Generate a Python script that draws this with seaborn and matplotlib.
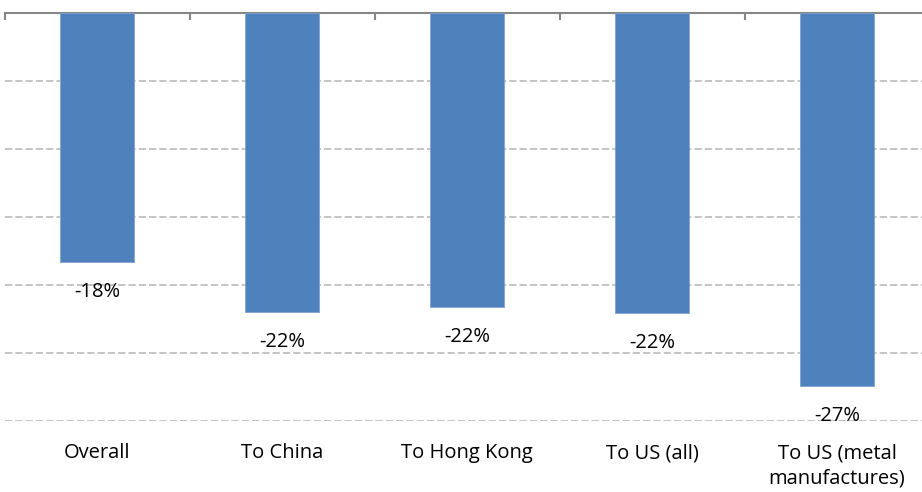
import matplotlib
matplotlib.use("Agg")
import matplotlib.pyplot as plt
import seaborn as sns
import pandas as pd
import numpy as np

categories = ["Overall", "To China", "To Hong Kong", "To US (all)", "To US (metal\nmanufactures)"]
values = [-18.3, -22.0, -21.6, -22.1, -27.4]
labels = ["-18%", "-22%", "-22%", "-22%", "-27%"]

sns.set_style("white")
plt.rcParams['font.family'] = ['Open Sans', 'DejaVu Sans']

df = pd.DataFrame({"category": categories, "value": values})

fig = plt.figure(figsize=(9.22, 4.92), dpi=100)
ax = fig.add_axes([4.5 / 922, 71 / 492, 925 / 922, 408.5 / 492])

sns.barplot(data=df, x="category", y="value", color="#4F81BD", width=0.40,
            saturation=1, edgecolor="#7FA3D0", linewidth=0.6, ax=ax, zorder=3)

ax.set_ylim(-30, 0)
ax.set_xlim(-0.5, len(categories) - 0.5)
ax.set_yticks(np.arange(-30, 0, 5))
ax.yaxis.grid(True, color="#BFBFBF", linestyle=(0, (4, 1.7)), linewidth=1.3, zorder=0)
ax.set_yticklabels([])
ax.tick_params(axis="y", length=0)
ax.set_xlabel("")
ax.set_ylabel("")

for s in ["left", "right", "bottom"]:
    ax.spines[s].set_visible(False)
ax.spines["top"].set_visible(True)
ax.spines["top"].set_color("#868686")
ax.spines["top"].set_linewidth(1.5)

ax.tick_params(axis="x", which="major", length=0, pad=16, labelsize=14.5, labelcolor="#000000")
for t in ax.get_xticklabels():
    t.set_linespacing(1.35)
ax.set_xticks(np.arange(-0.5, len(categories), 1.0), minor=True)
ax.tick_params(axis="x", which="minor", top=True, bottom=False, direction="in",
               length=5, width=1.5, color="#868686")

for i, (v, lab) in enumerate(zip(values, labels)):
    ax.annotate(lab, xy=(i, v), xytext=(0, -30), textcoords="offset pixels",
                ha="center", va="center", fontsize=14.5, color="#000000", zorder=4)

fig.savefig("out.png", dpi=100)
